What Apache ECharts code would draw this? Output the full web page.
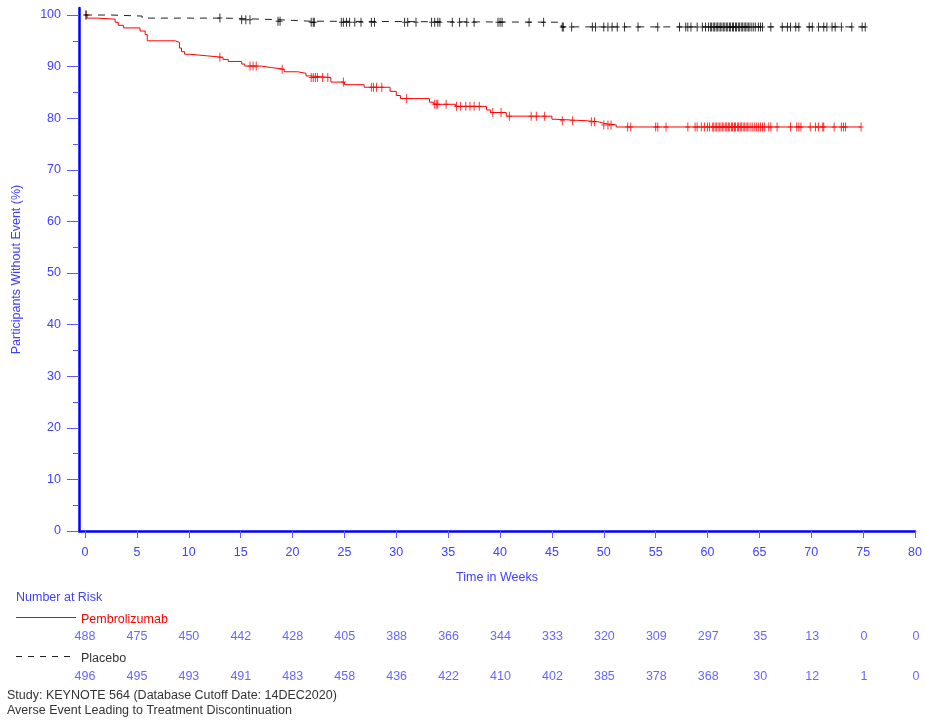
<!DOCTYPE html>
<html>
<head>
<meta charset="utf-8">
<script src="https://cdn.jsdelivr.net/npm/echarts@6/dist/echarts.min.js"></script>
<style>
  html, body { margin: 0; padding: 0; background: #fff; }
  #chart { width: 925px; height: 720px; }
</style>
</head>
<body>
<div id="chart"></div>
<script>
// Kaplan-Meier estimates: time (weeks) at which each step occurs and the survival (%) after it
const pembroTime = [0, 0.2, 1.2, 2.9, 3.2, 3.7, 5.3, 5.8, 6.0, 8.7, 9.1, 9.3, 9.6, 10.1, 11.7, 13.3, 13.8, 15.1, 15.4, 17.0, 18.0, 19.2, 20.5, 21.3, 21.6, 23.7, 25.0, 26.9, 29.4, 30.0, 30.4, 33.2, 33.6, 35.7, 38.7, 39.1, 40.6, 45.0, 45.3, 48.4, 49.5, 50.0, 51.2, 74.8];
const pembroSurv = [100, 99.4, 99.2, 98.6, 98.0, 97.5, 96.9, 96.2, 95.0, 94.7, 93.6, 92.9, 92.4, 92.1, 91.8, 91.4, 91.0, 90.5, 90.1, 89.8, 89.5, 89.0, 88.7, 88.2, 87.9, 87.0, 86.5, 86.0, 85.2, 84.4, 83.8, 83.1, 82.7, 82.3, 81.6, 81.1, 80.4, 79.8, 79.5, 79.3, 79.0, 78.7, 78.3, 78.3];

const placeboTime = [0, 2.5, 5.5, 13.5, 18.6, 21.7, 45.9, 75.2];
const placeboSurv = [100, 99.8, 99.4, 99.1, 98.8, 98.6, 97.7, 97.7];

// Censoring times (weeks)
const pembroCensor = [0.1, 13.0, 15.9, 16.2, 16.5, 19.0, 21.8, 22.0, 22.2, 22.4, 22.9, 23.4, 24.9, 27.6, 27.8, 28.1, 28.6, 31.0, 33.7, 33.9, 34.0, 34.8, 35.8, 36.2, 36.7, 37.1, 37.5, 38.0, 39.3, 40.1, 40.9, 43.0, 43.5, 44.3, 46.0, 47.0, 48.8, 49.1, 50.0, 50.4, 50.7, 52.3, 52.6, 55.0, 55.2, 56.0, 58.1, 58.8, 59.0, 59.4, 59.7, 60.0, 60.2, 60.5, 60.6, 60.8, 60.9, 61.1, 61.2, 61.4, 61.5, 61.7, 61.8, 62.0, 62.1, 62.3, 62.4, 62.6, 62.7, 62.9, 63.0, 63.2, 63.3, 63.5, 63.6, 63.8, 63.9, 64.1, 64.3, 64.5, 64.7, 64.9, 65.1, 65.3, 65.5, 65.9, 66.1, 66.7, 68.0, 68.6, 68.8, 69.0, 69.9, 70.4, 70.7, 71.1, 71.2, 72.2, 72.9, 73.1, 73.3, 74.8];
const placeboCensor = [0.1, 13.0, 15.1, 15.5, 15.9, 18.6, 18.8, 21.8, 22.0, 22.1, 24.7, 24.9, 25.2, 25.5, 26.0, 26.6, 27.6, 27.9, 30.8, 31.1, 31.9, 33.4, 33.7, 34.0, 34.2, 35.4, 36.1, 36.8, 37.5, 39.8, 40.0, 40.2, 42.8, 44.2, 46.0, 46.1, 46.9, 48.9, 49.2, 50.0, 50.4, 50.8, 51.3, 52.0, 53.3, 55.2, 57.3, 57.9, 58.1, 58.4, 59.0, 59.5, 59.8, 60.1, 60.3, 60.4, 60.6, 60.7, 60.9, 61.0, 61.2, 61.3, 61.5, 61.6, 61.8, 61.9, 62.1, 62.2, 62.4, 62.5, 62.7, 62.8, 63.0, 63.1, 63.3, 63.4, 63.6, 63.7, 63.9, 64.0, 64.2, 64.4, 64.6, 64.9, 65.1, 65.3, 66.1, 67.2, 67.7, 68.0, 68.5, 68.8, 69.8, 70.1, 70.7, 71.2, 71.5, 72.0, 72.3, 72.9, 73.9, 74.9, 75.2];

// Number at risk table
const riskTimes = [0, 5, 10, 15, 20, 25, 30, 35, 40, 45, 50, 55, 60, 65, 70, 75, 80];
const riskPembro = [488, 475, 450, 442, 428, 405, 388, 366, 344, 333, 320, 309, 297, 35, 13, 0, 0];
const riskPlacebo = [496, 495, 493, 491, 483, 458, 436, 422, 410, 402, 385, 378, 368, 30, 12, 1, 0];

// Axis ticks
const xTicks = [0, 5, 10, 15, 20, 25, 30, 35, 40, 45, 50, 55, 60, 65, 70, 75, 80];
const yMajor = [0, 10, 20, 30, 40, 50, 60, 70, 80, 90, 100];
const yMinor = [5, 15, 25, 35, 45, 55, 65, 75, 85, 95];

const FONT = 'Liberation Sans, Arial, sans-serif';
const FS = 12.5;
const AXIS_BLUE = '#0000ff';
const TEXT_BLUE = '#4040ff';
const TICK_BLUE = '#5a5aff';
const RED = '#ff0000';
const DARK = '#222222';
const X_MIN = -0.58;

function steps(times, surv) {
  return times.map((t, i) => [t, surv[i]]);
}
// Value of the step curve at time t (censor marks sit on the curve)
function survAt(times, surv, t) {
  let v = surv[0];
  for (let i = 0; i < times.length; i++) { if (times[i] <= t) v = surv[i]; }
  return v;
}
function censorPoints(c, times, surv) {
  return c.map(t => [t, survAt(times, surv, t)]);
}

const plus = 'path://M2,0h1v9h-1zM0,4h5v1h-5z';

const chart = echarts.init(document.getElementById('chart'), null, { renderer: 'canvas' });

chart.setOption({
  animation: false,
  backgroundColor: '#ffffff',
  textStyle: { fontFamily: FONT },
  grid: [
    { left: 79, right: 9, top: 8, bottom: 189 },
    { left: 79, right: 9, top: 637, height: 40 }
  ],
  xAxis: [
    {
      gridIndex: 0, type: 'value', min: X_MIN, max: 80,
      axisLine: { show: true, onZero: false, lineStyle: { color: AXIS_BLUE, width: 2.5 } },
      axisTick: { show: true, customValues: xTicks, length: 7, lineStyle: { color: TICK_BLUE, width: 1 } },
      axisLabel: { customValues: xTicks, color: TEXT_BLUE, fontSize: FS, margin: 15, fontFamily: FONT },
      splitLine: { show: false },
      name: 'Time in Weeks', nameLocation: 'middle', nameGap: 40,
      nameTextStyle: { color: TEXT_BLUE, fontSize: FS, fontFamily: FONT }
    },
    { gridIndex: 1, type: 'value', min: X_MIN, max: 80, show: false }
  ],
  yAxis: [
    {
      gridIndex: 0, type: 'value', min: 0, max: 101.36, position: 'left',
      axisLine: { show: true, onZero: false, lineStyle: { color: AXIS_BLUE, width: 2.5 } },
      axisTick: { show: true, customValues: yMajor, length: 12, lineStyle: { color: TICK_BLUE, width: 1 } },
      axisLabel: { customValues: yMajor, color: TEXT_BLUE, fontSize: FS, margin: 18, fontFamily: FONT },
      splitLine: { show: false },
      name: 'Participants Without Event (%)', nameLocation: 'middle', nameGap: 56, nameRotate: 90,
      nameTextStyle: { color: TEXT_BLUE, fontSize: FS, fontFamily: FONT }
    },
    {
      gridIndex: 0, type: 'value', min: 0, max: 101.36, position: 'left',
      axisLine: { show: false, onZero: false },
      axisTick: { show: true, customValues: yMinor, length: 6, lineStyle: { color: TICK_BLUE, width: 1 } },
      axisLabel: { show: false, customValues: yMinor },
      splitLine: { show: false }
    },
    { gridIndex: 1, type: 'value', min: 0, max: 1, show: false }
  ],
  series: [
    {
      name: 'Pembrolizumab', type: 'line', step: 'end', xAxisIndex: 0, yAxisIndex: 0,
      data: steps(pembroTime, pembroSurv), symbol: 'none',
      lineStyle: { color: RED, width: 1 }, z: 3
    },
    {
      name: 'Placebo', type: 'line', step: 'end', xAxisIndex: 0, yAxisIndex: 0,
      data: steps(placeboTime, placeboSurv), symbol: 'none',
      lineStyle: { color: DARK, width: 1, type: [7, 6] }, z: 3
    },
    {
      name: 'Pembrolizumab censored', type: 'scatter', xAxisIndex: 0, yAxisIndex: 0,
      data: censorPoints(pembroCensor, pembroTime, pembroSurv),
      symbol: plus, symbolSize: [5, 9], itemStyle: { color: RED }, z: 4, silent: true
    },
    {
      name: 'Placebo censored', type: 'scatter', xAxisIndex: 0, yAxisIndex: 0,
      data: censorPoints(placeboCensor, placeboTime, placeboSurv),
      symbol: plus, symbolSize: [5, 9], itemStyle: { color: '#000000' }, z: 4, silent: true
    },
    {
      name: 'Risk Pembrolizumab', type: 'scatter', xAxisIndex: 1, yAxisIndex: 2,
      data: riskTimes.map((t, i) => [t, 1, riskPembro[i]]),
      symbolSize: 0,
      label: { show: true, position: 'inside', formatter: p => String(p.value[2]), color: TEXT_BLUE, fontSize: FS, fontFamily: FONT }
    },
    {
      name: 'Risk Placebo', type: 'scatter', xAxisIndex: 1, yAxisIndex: 2,
      data: riskTimes.map((t, i) => [t, 0, riskPlacebo[i]]),
      symbolSize: 0,
      label: { show: true, position: 'inside', formatter: p => String(p.value[2]), color: TEXT_BLUE, fontSize: FS, fontFamily: FONT }
    }
  ],
  graphic: [
    { type: 'text', left: 16, top: 591, style: { text: 'Number at Risk', fill: TEXT_BLUE, font: FS + 'px ' + FONT } },
    { type: 'line', shape: { x1: 16, y1: 617.5, x2: 76, y2: 617.5 }, style: { stroke: RED, lineWidth: 1 } },
    { type: 'text', left: 81, top: 613, style: { text: 'Pembrolizumab', fill: RED, font: FS + 'px ' + FONT } },
    { type: 'line', shape: { x1: 16, y1: 656.5, x2: 74, y2: 656.5 }, style: { stroke: DARK, lineWidth: 1, lineDash: [6, 6] } },
    { type: 'text', left: 81, top: 652, style: { text: 'Placebo', fill: '#333333', font: FS + 'px ' + FONT } },
    { type: 'text', left: 7, top: 689, style: { text: 'Study: KEYNOTE 564 (Database Cutoff Date: 14DEC2020)', fill: '#333333', font: FS + 'px ' + FONT } },
    { type: 'text', left: 7, top: 704, style: { text: 'Averse Event Leading to Treatment Discontinuation', fill: '#333333', font: FS + 'px ' + FONT } }
  ]
});
</script>
</body>
</html>
